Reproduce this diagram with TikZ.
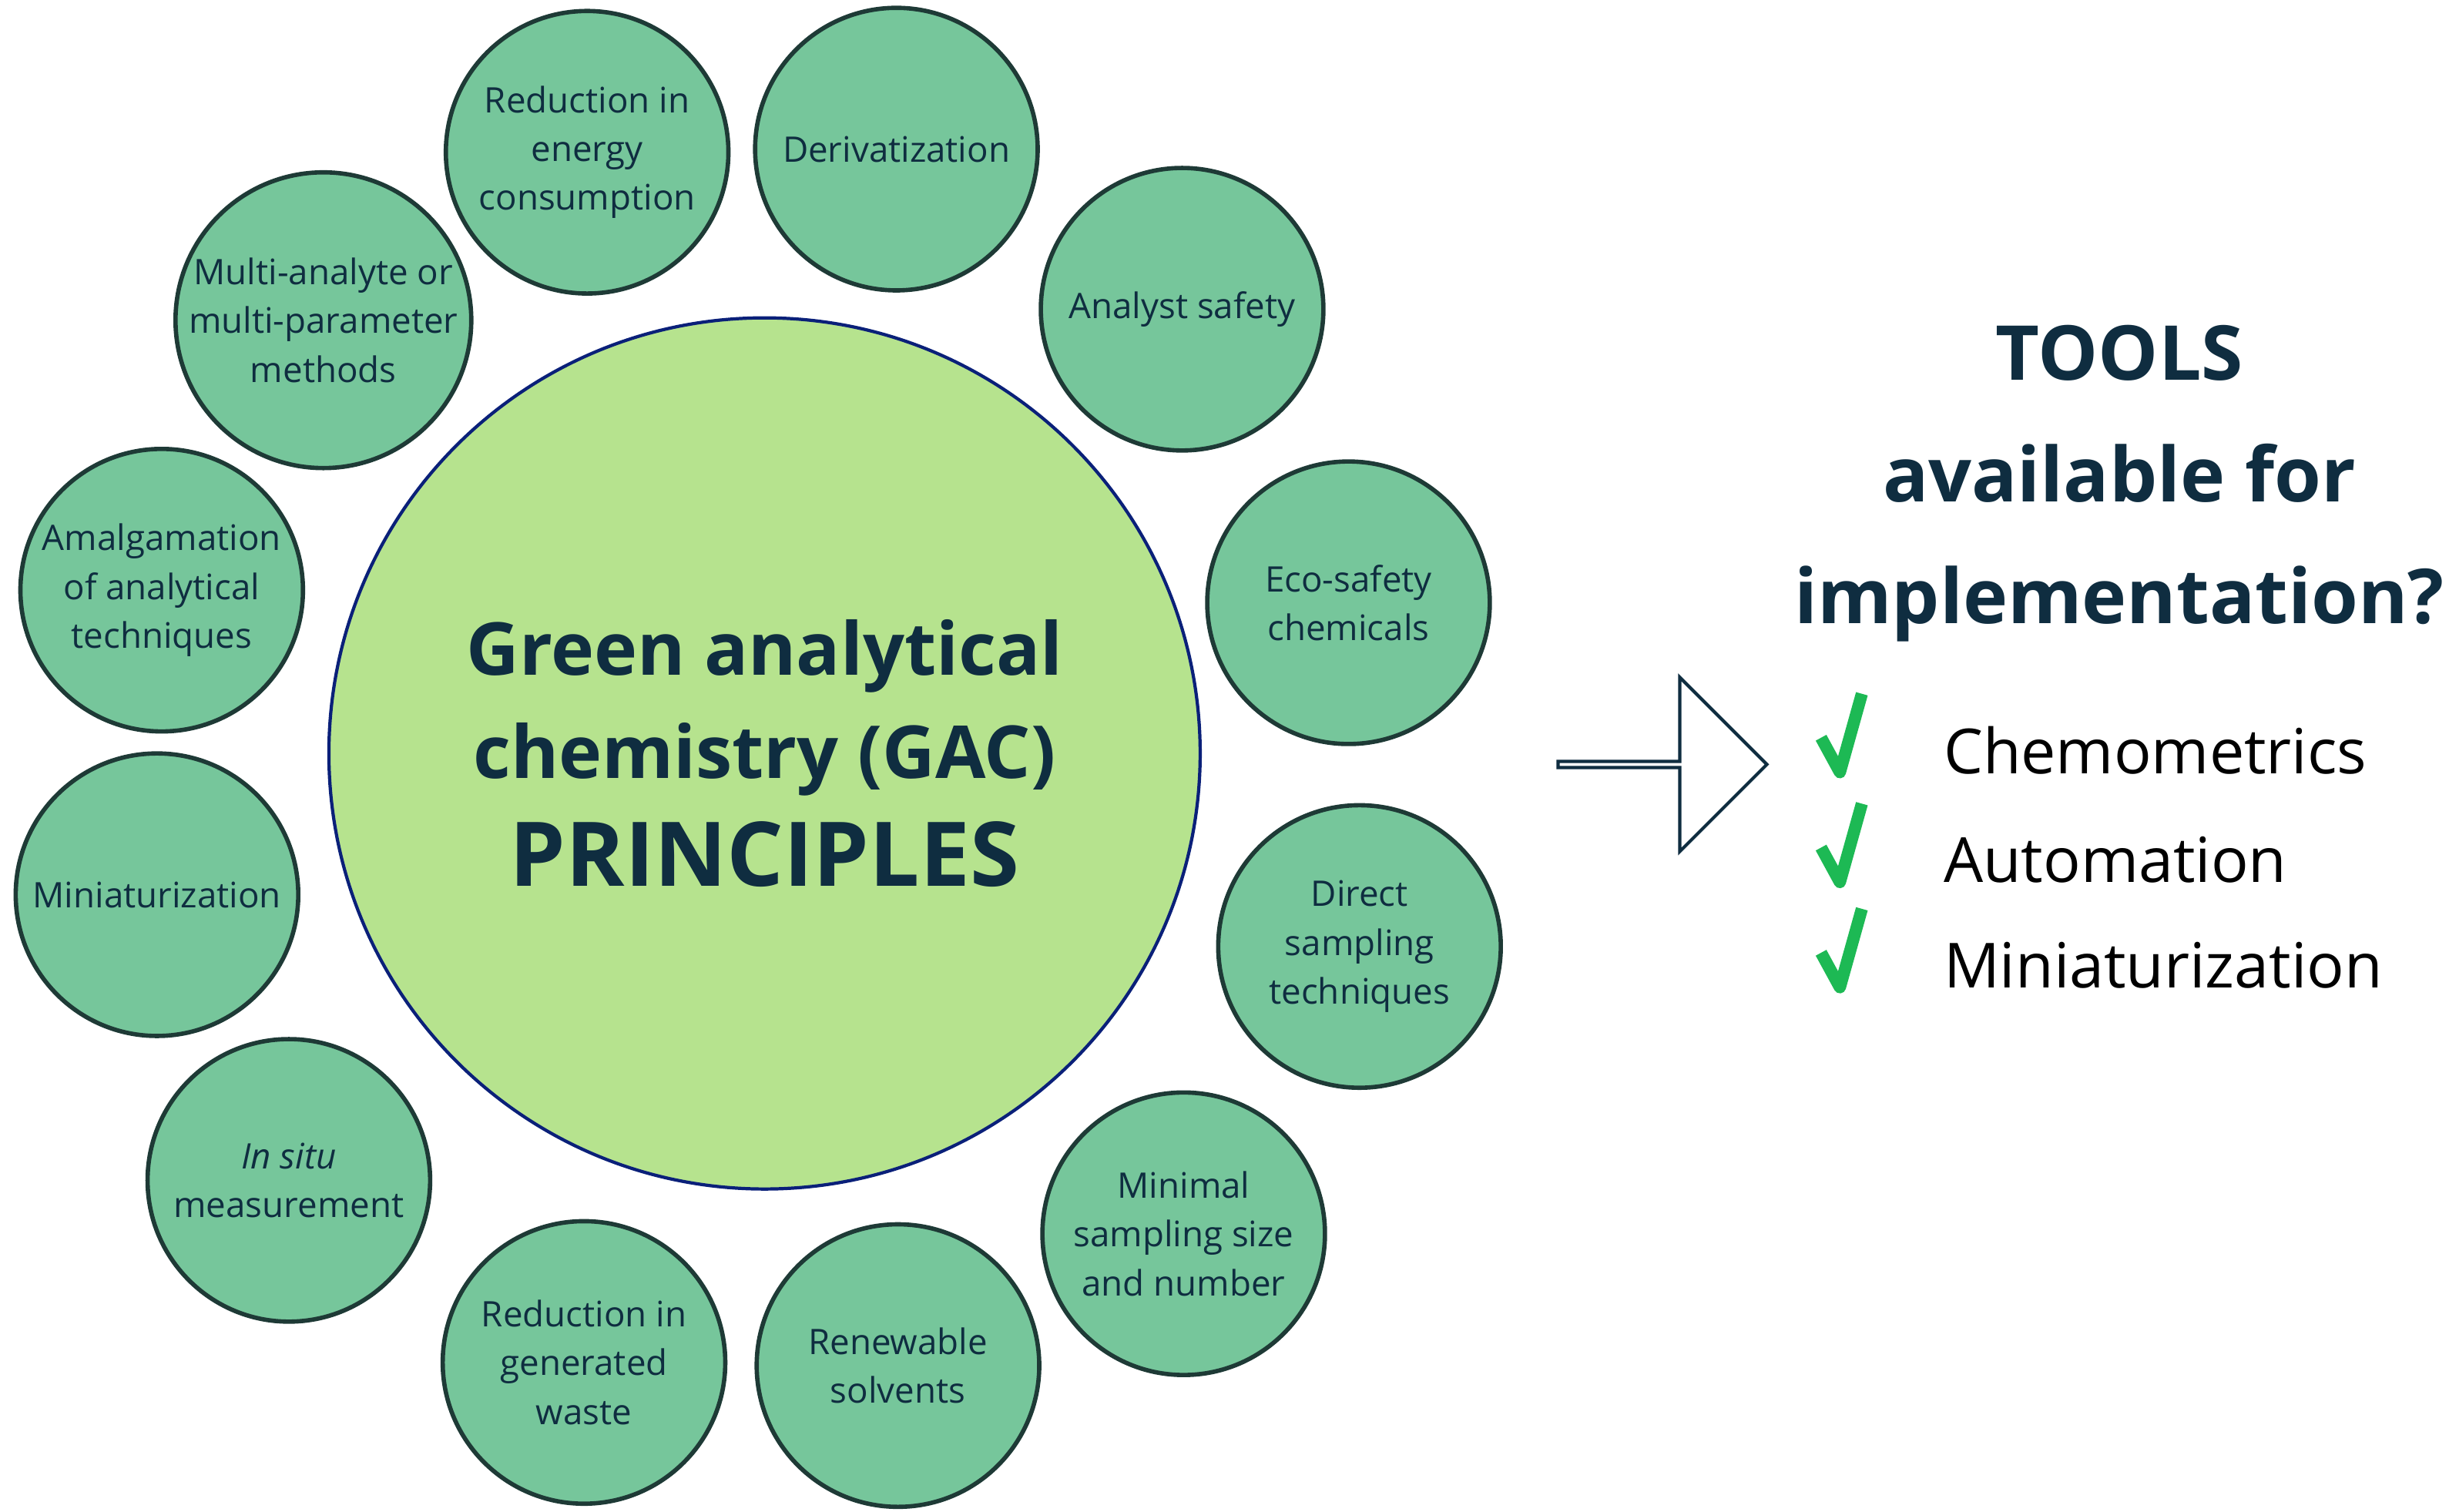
\documentclass[tikz,border=0pt]{standalone}
\usepackage{fontspec}
\setmainfont{Open Sans}
\usetikzlibrary{shapes.arrows}
\definecolor{leaf}{HTML}{76C69B}
\definecolor{lime}{HTML}{B6E38E}
\definecolor{ink}{HTML}{0F2D40}
\definecolor{rim}{HTML}{1E3A36}
\definecolor{tick}{HTML}{1DB954}
\begin{document}
\begin{tikzpicture}[x=0.02038cm,y=-0.02038cm,
  principle/.style={circle,draw=rim,line width=1.6pt,fill=leaf,
   minimum size=180*0.02038cm,inner sep=0pt,align=center,
   font=\fontsize{13}{18}\selectfont,text=ink},
  tool/.style={anchor=west,font=\fontsize{23}{28}\selectfont,text=black}]
 \useasboundingbox (0,0) rectangle (1560,963);

 \node [circle,draw=ink!70!blue,line width=1.2pt,fill=lime,
  minimum size=555*0.02038cm,align=center,text=ink,
  font=\bfseries\fontsize{27}{38}\selectfont] (gac) at (487,480)
  {Green analytical\\chemistry (GAC)\\[2pt]{\fontsize{33}{38}\selectfont PRINCIPLES}};

 \node [principle] (energy) at (374,97) {Reduction in\\energy\\consumption};
 \node [principle] (deriv) at (571,95) {Derivatization};
 \node [principle] (analyst) at (753,197) {Analyst safety};
 \node [principle] (eco) at (859,384) {Eco-safety\\chemicals};
 \node [principle] (direct) at (866,603) {Direct\\sampling\\techniques};
 \node [principle] (minimal) at (754,786) {Minimal\\sampling size\\and number};
 \node [principle] (renew) at (572,870) {Renewable\\solvents};
 \node [principle] (waste) at (372,868) {Reduction in\\generated\\waste};
 \node [principle] (insitu) at (184,752) {\textit{In situ}\\measurement};
 \node [principle] (mini) at (100,570) {Miniaturization};
 \node [principle] (amalg) at (103,376) {Amalgamation\\of analytical\\techniques};
 \node [principle] (multi) at (206,204) {Multi-analyte or\\multi-parameter\\methods};

 % block arrow
 \node [single arrow,draw=ink,line width=1.2pt,fill=white,
  minimum width=111*0.02038cm,single arrow head extend=28*0.02038cm,
  minimum height=133*0.02038cm,inner sep=0pt] (go) at (1058,487) {};

 \node [align=center,text=ink,font=\bfseries\fontsize{28}{45}\selectfont]
  (tools) at (1350,308) {TOOLS\\available for\\implementation?};

 \node [tool] (chemo) at (1232,478) {Chemometrics};
 \node [tool] (auto) at (1232,548) {Automation};
 \node [tool] (minit) at (1232,615) {Miniaturization};

 \foreach \t in {chemo,auto,minit}
  \draw [tick,line width=4.5pt,line join=round]
   ([xshift=-72*0.02038cm,yshift=8*0.02038cm]\t.west)
   -- ++(12,22) -- ++(14,-50);
\end{tikzpicture}
\end{document}
